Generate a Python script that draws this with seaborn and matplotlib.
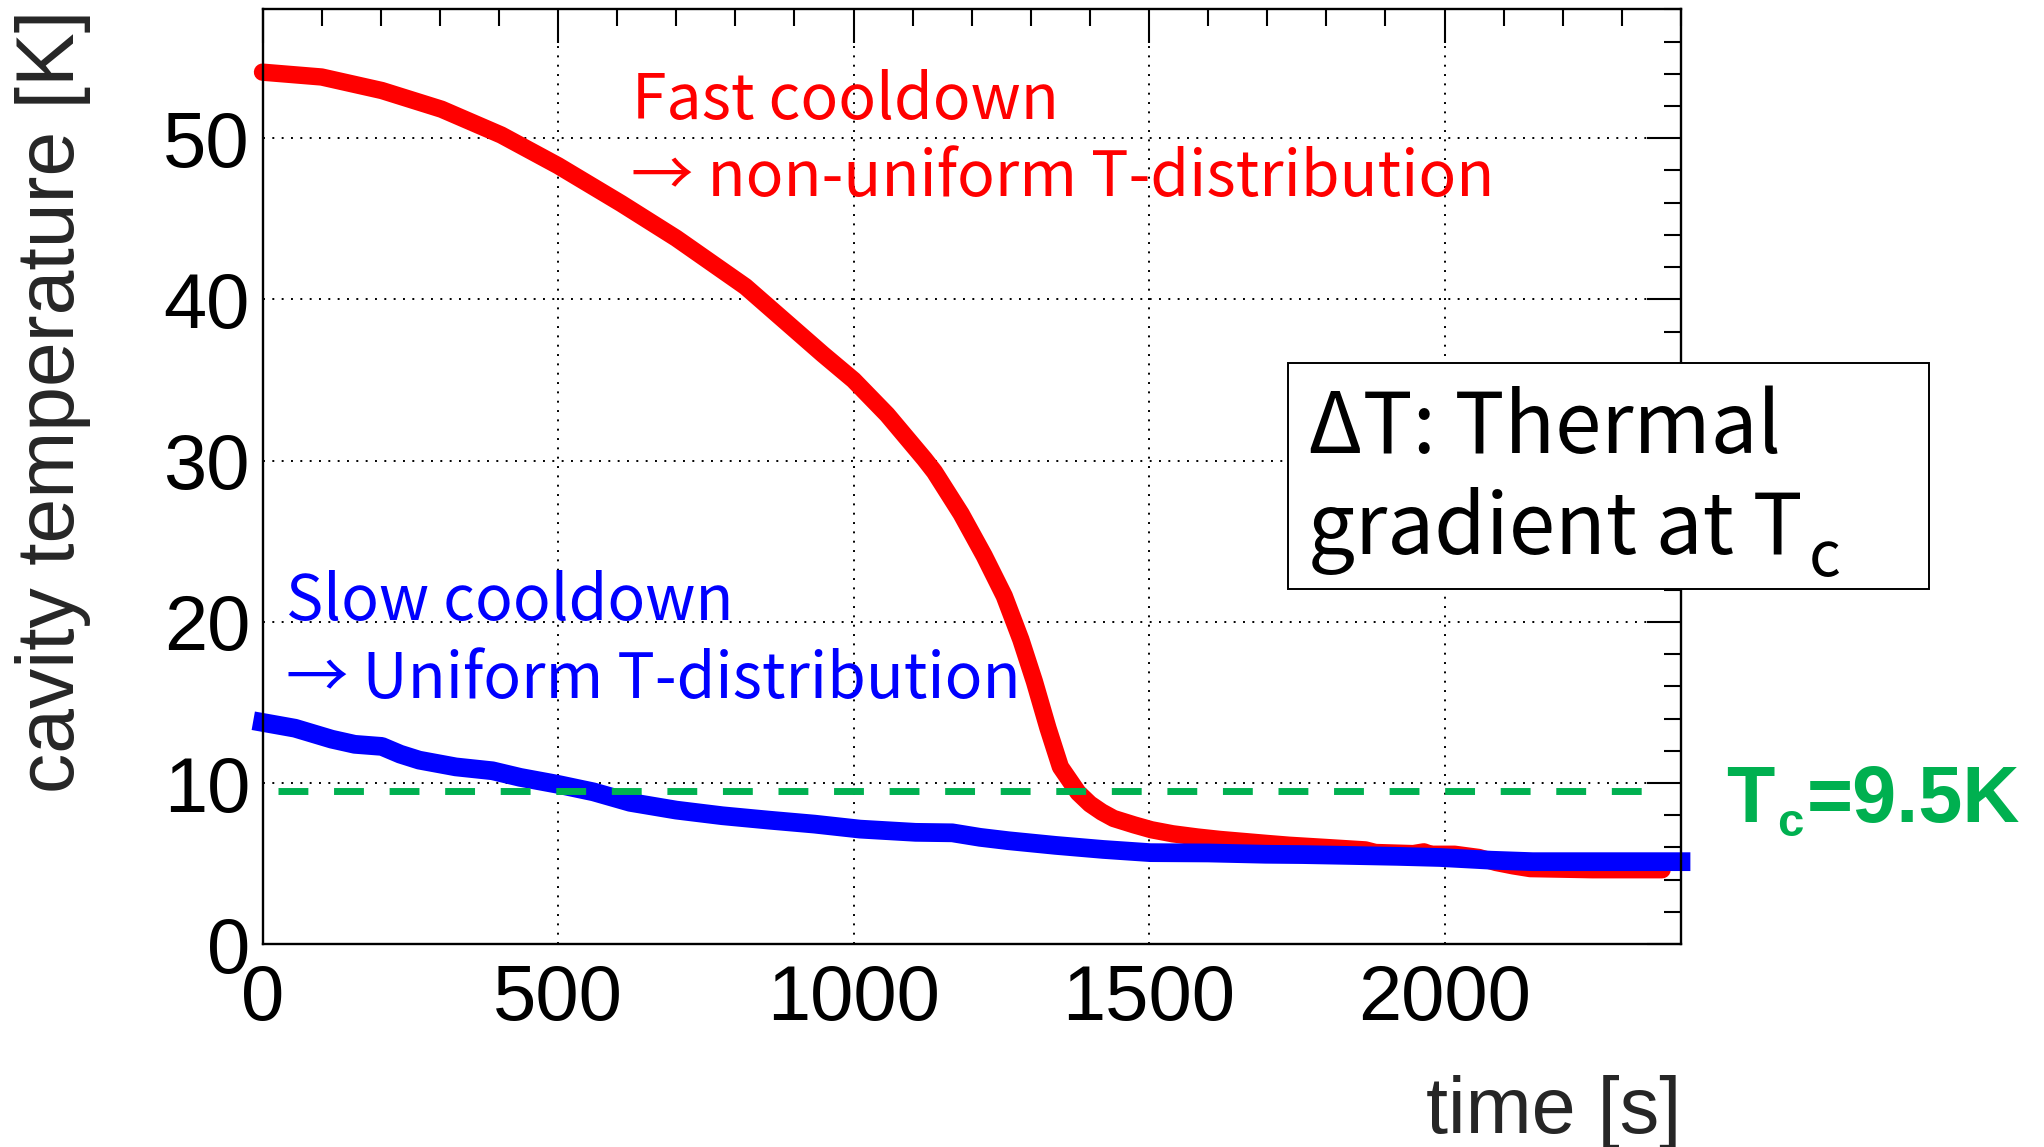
import matplotlib
matplotlib.use("Agg")
import matplotlib.pyplot as plt
import pandas as pd
import seaborn as sns
from matplotlib.patches import Rectangle
from matplotlib.ticker import MultipleLocator, FixedLocator

# ---- data -------------------------------------------------------------
fast_time = [0, 100, 202, 303, 404, 500, 607, 700, 817, 895, 948,
             1000, 1057, 1120, 1137, 1182, 1221, 1255, 1283, 1306,
             1329, 1350, 1380, 1400, 1420, 1440, 1475, 1504, 1540, 1582,
             1620, 1700, 1737, 1800, 1866, 1883, 1947, 1965, 1976, 2017,
             2058, 2087, 2116, 2145, 2250, 2368]
fast_temp = [54.1, 53.8, 52.96, 51.8, 50.2, 48.3, 45.95, 43.8, 40.8,
             38.3, 36.6, 35.0, 32.85, 30.1, 29.3, 26.7, 24.1, 21.6,
             18.9, 16.3, 13.4, 11.0, 9.4, 8.7, 8.2, 7.8, 7.4, 7.1, 6.85,
             6.65, 6.5, 6.25, 6.14, 6.0, 5.85, 5.69, 5.62, 5.73, 5.58, 5.58,
             5.38, 5.07, 4.86, 4.69, 4.62, 4.62]

slow_time = [0, 55, 117, 156, 202, 233, 265, 327, 389, 436, 498, 560, 622,
             700, 778, 856, 934, 1011, 1105, 1167, 1214, 1262, 1342, 1422,
             1502, 1600, 1697, 1760, 1849, 1920, 1992, 2079, 2149, 2250, 2400]
slow_temp = [13.76, 13.4, 12.72, 12.4, 12.27, 11.79, 11.42, 11.0, 10.76,
             10.35, 9.93, 9.45, 8.8, 8.32, 7.97, 7.7, 7.45, 7.14, 6.94, 6.91,
             6.63, 6.42, 6.13, 5.88, 5.68, 5.66, 5.58, 5.56, 5.5, 5.45, 5.38,
             5.21, 5.12, 5.12, 5.12]

tc_value = 9.5
x_major = [0, 500, 1000, 1500, 2000]
y_major = [0, 10, 20, 30, 40, 50]

# ---- style ------------------------------------------------------------
sns.set_theme(style="white")
plt.rcParams["font.family"] = ["Liberation Sans", "DejaVu Sans"]
JP = ["Noto Sans CJK JP", "DejaVu Sans"]

RED, BLUE, GREEN = "#ff0000", "#0000ff", "#00b050"

W, H = 2044, 1147
fig = plt.figure(figsize=(W / 100, H / 100), dpi=100)
fig.patch.set_facecolor("white")
L, R, T, B = 262.5, 1681.0, 9.3, 944.2
ax = fig.add_axes([L / W, 1 - B / H, (R - L) / W, (B - T) / H])
ax.set_facecolor("white")

fast = pd.DataFrame({"time": fast_time, "temp": fast_temp})
slow = pd.DataFrame({"time": slow_time, "temp": slow_temp})

sns.lineplot(data=fast, x="time", y="temp", ax=ax, color=RED, lw=12.5,
             estimator=None, sort=False, solid_capstyle="round",
             solid_joinstyle="round", clip_on=False, zorder=3)
sns.lineplot(data=slow, x="time", y="temp", ax=ax, color=BLUE, lw=13.5,
             estimator=None, sort=False, solid_capstyle="projecting",
             solid_joinstyle="round", clip_on=False, zorder=4)

# critical temperature marker
ax.axhline(tc_value, xmin=0.011, xmax=0.982, color=GREEN, lw=5.0,
           dashes=(4.3, 3.7), zorder=5)

# ---- axes -------------------------------------------------------------
ax.set_xlim(0, 2400)
ax.set_ylim(0, 58)
ax.xaxis.set_major_locator(FixedLocator(x_major))
ax.yaxis.set_major_locator(FixedLocator(y_major))
ax.xaxis.set_minor_locator(MultipleLocator(100))
ax.yaxis.set_minor_locator(MultipleLocator(2))

ax.grid(True, which="major", color="black", lw=1.4, linestyle=(0, (1, 3.8)))
ax.set_axisbelow(True)
for s in ax.spines.values():
    s.set_color("black")
    s.set_linewidth(1.7)
    s.set_zorder(6)

ax.tick_params(which="both", direction="in", top=True, right=True,
               color="black", width=1.5, labelcolor="black")
ax.tick_params(which="major", length=24.5)
ax.tick_params(which="minor", length=12.2)
ax.tick_params(axis="x", which="major", labelsize=56, pad=13.7)
ax.tick_params(axis="y", which="major", labelsize=56, pad=9)

ax.set_xlabel("time [s]", fontsize=57, loc="right")
ax.xaxis.set_label_coords(1.0, -0.1399)
ax.set_ylabel("cavity temperature [K]", fontsize=58, loc="top")
ax.yaxis.set_label_coords(-0.1206, 1.0)

# ---- annotations ------------------------------------------------------
ax.text(626, 51.2, "Fast cooldown", color=RED, fontsize=45, family=JP,
        va="baseline", zorder=7)
ax.text(623, 46.4, "\u2192 non-uniform T-distribution", color=RED,
        fontsize=45, family=JP, va="baseline", zorder=7)
ax.text(40, 20.1, "Slow cooldown", color=BLUE, fontsize=45, family=JP,
        va="baseline", zorder=7)
ax.text(40, 15.3, "\u2192 Uniform T-distribution", color=BLUE, fontsize=45,
        family=JP, va="baseline", zorder=7)

renderer = fig.canvas.get_renderer()


def fx(px):
    return px / W


def fy(py):
    return 1 - py / H


# info box
fig.add_artist(Rectangle((fx(1288), fy(589)), (1929 - 1288) / W,
                         (589 - 363) / H, transform=fig.transFigure,
                         facecolor="white", edgecolor="black", lw=1.4,
                         zorder=10))
fig.text(fx(1308), fy(452.7), "\u0394T: Thermal", fontsize=60, family=JP,
         color="black", va="baseline", zorder=11)
t2 = fig.text(fx(1308), fy(554), "gradient at T", fontsize=60, family=JP,
              color="black", va="baseline", zorder=11)
ext = t2.get_window_extent(renderer)
fig.text((ext.x1 + 6) / W, fy(576), "c", fontsize=45, family=JP,
         color="black", va="baseline", zorder=11)

# Tc label
tT = fig.text(fx(1726), fy(821.7), "T", fontsize=57, weight="bold",
              color=GREEN, va="baseline")
e1 = tT.get_window_extent(renderer)
tc_sub = fig.text((e1.x1 + 3) / W, fy(836), "c", fontsize=34, weight="bold",
                  color=GREEN, va="baseline")
e2 = tc_sub.get_window_extent(renderer)
fig.text((e2.x1 + 3) / W, fy(821.7), "=9.5K", fontsize=57, weight="bold",
         color=GREEN, va="baseline")

fig.savefig("out.png", dpi=100, facecolor="white")
